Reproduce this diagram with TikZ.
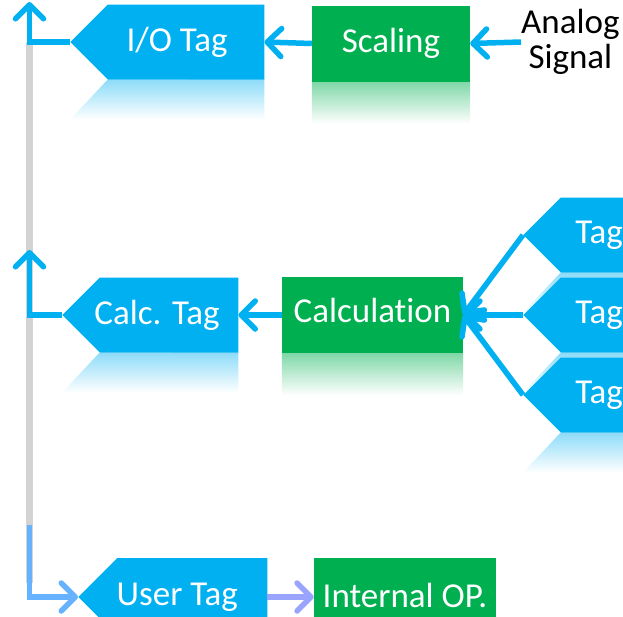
\documentclass[tikz,border=0pt]{standalone}
\usepackage{fontspec}
\setmainfont{Carlito}[Ligatures=CommonOff]
\usetikzlibrary{shapes.symbols, arrows.meta, calc, backgrounds}
\definecolor{tagblue}{HTML}{00B0F0}
\definecolor{opgreen}{HTML}{00B050}
\definecolor{railgray}{HTML}{D3D3D3}
\definecolor{userblue}{HTML}{66B2FF}
\definecolor{oplilac}{HTML}{99A4FF}
\tikzset{tagnode/.style={signal, signal to=west, signal pointer angle=90, fill=tagblue, minimum height=75pt, inner sep=0pt, anchor=west}}
\tikzset{tagtext/.style={text=white, inner sep=0pt}}
\tikzset{opnode/.style={rectangle, fill=opgreen, text=white, minimum height=76pt, inner sep=0pt}}
\tikzset{flow/.style={line width=5.5pt, tagblue, -{Straight Barb[round, length=14pt, width=28pt]}}}
\newcommand\tagshine[1]{\shade[top color=tagblue!45, bottom color=white] ($(#1.west |- #1.south)+(37.5,0)$) -- ($(#1.west |- #1.south)+(0,40)$) -- ($(#1.south east)+(0,40)$) -- (#1.south east) -- cycle;}
\newcommand\opshine[1]{\shade[top color=opgreen!50, bottom color=white] (#1.south west) rectangle ($(#1.south east)+(0,42)$);}

\begin{document}
\begin{tikzpicture}[x=1pt, y=-1pt, font=\fontsize{35}{35}\selectfont]
            \useasboundingbox (0,0) rectangle (623,616);
            \clip (0,0) rectangle (623,616);
            \fill[railgray] (26,42) rectangle (33,583);
            % tags and operations
            \node[tagnode, minimum width=194pt, label={[tagtext, name=iotext, xshift=-9pt]center:I/O Tag}] (io) at (70,42) {};
            \node[opnode, minimum width=158pt] (scaling) at (391,43.5) {Scaling};
            \node[align=center, inner sep=0pt, anchor=west] (analog) at (521,42) {Analog\\Signal};
            \node[tagnode, minimum width=176pt, label={[tagtext, name=calctagtext, xshift=-12pt]center:Calc. Tag}] (calctag) at (62,315) {};
            \node[opnode, minimum width=181pt, text depth=10pt] (calc) at (372.5,315) {Calculation};
            \foreach \name/\y in {tag1/235, tag2/315, tag3/395} {
                \node[tagnode, minimum width=176pt, label={[tagtext, name=\name text, xshift=-31pt]center:Tag}] (\name) at (523,\y) {};
            }
            \node[tagnode, minimum width=189pt, minimum height=78pt, label={[tagtext, name=usertext, xshift=-15pt]center:User Tag}] (usertag) at (78,597) {};
            \node[opnode, minimum width=182pt, minimum height=78pt, text depth=4pt] (internal) at (405,597) {Internal OP.};
            \coordinate (ioup) at (29.5,2);
            \coordinate (calcup) at (29.5,250);
            \coordinate (userstart) at (29.5,525);
            % reflections
            \begin{scope}[on background layer]
                \foreach \name in {io, calctag, tag1, tag2, tag3} {\tagshine{\name}}
                \foreach \name in {scaling, calc} {\opshine{\name}}
            \end{scope}
            % connectors
            \draw[flow] (analog.west) -- (scaling.east);
            \draw[flow] (scaling.west) -- (io.east);
            \draw[flow] (io.west) -| (ioup);
            \foreach \name in {tag1, tag2, tag3} {
                \draw[flow] (\name.west) -- (calc.east);
            }
            \draw[flow] (calc.west) -- (calctag.east);
            \draw[flow] (calctag.west) -| (calcup);
            \draw[flow, userblue] (userstart) |- (usertag.west);
            \draw[flow, oplilac] (usertag.east) -- (internal.west);
        \end{tikzpicture}
\end{document}
